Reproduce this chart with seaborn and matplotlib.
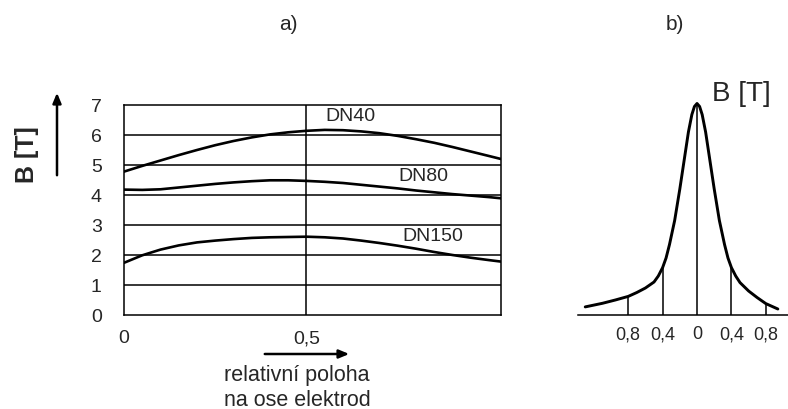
import numpy as np
import pandas as pd
import matplotlib
matplotlib.use("Agg")
import matplotlib.pyplot as plt
import seaborn as sns

# a) B along the electrode axis for three pipe sizes
poloha = [0.0, 0.05, 0.1, 0.15, 0.2, 0.25, 0.3, 0.35, 0.4, 0.45, 0.5, 0.55, 0.6,
          0.65, 0.7, 0.75, 0.8, 0.85, 0.9, 0.95, 1.0, 1.033]
b_dn40 = [4.78, 4.97, 5.15, 5.33, 5.5, 5.66, 5.8, 5.92, 6.02, 6.09, 6.14, 6.17, 6.16,
          6.12, 6.06, 5.97, 5.86, 5.74, 5.6, 5.45, 5.3, 5.2]
b_dn80 = [4.18, 4.17, 4.19, 4.25, 4.31, 4.37, 4.42, 4.46, 4.49, 4.49, 4.47, 4.44, 4.4,
          4.34, 4.28, 4.22, 4.15, 4.09, 4.03, 3.98, 3.93, 3.89]
b_dn150 = [1.74, 1.99, 2.18, 2.32, 2.42, 2.48, 2.53, 2.57, 2.59, 2.6, 2.61, 2.59, 2.55,
           2.48, 2.4, 2.31, 2.21, 2.1, 2.0, 1.91, 1.83, 1.78]

# b) field profile across the axis
prof_x = [-1.3, -1.1, -0.95, -0.8, -0.7, -0.6, -0.5, -0.45, -0.4, -0.36, -0.32, -0.26,
          -0.2, -0.15, -0.1, -0.06, -0.03, 0.0, 0.03, 0.06, 0.1, 0.15, 0.2, 0.26,
          0.32, 0.36, 0.4, 0.45, 0.5, 0.6, 0.7, 0.8, 0.94]
prof_b = [0.27, 0.39, 0.5, 0.62, 0.75, 0.9, 1.1, 1.3, 1.58, 1.9, 2.35, 3.15,
          4.2, 5.15, 6.1, 6.68, 6.95, 7.05, 6.95, 6.68, 6.1, 5.15, 4.2, 3.15,
          2.35, 1.9, 1.58, 1.3, 1.08, 0.8, 0.58, 0.38, 0.2]
prof_ticks = [-0.8, -0.4, 0.0, 0.4, 0.8]
prof_ticklabels = ["0,8", "0,4", "0", "0,4", "0,8"]

df = pd.DataFrame({"x": poloha * 3,
                   "B": b_dn40 + b_dn80 + b_dn150,
                   "serie": ["DN40"] * len(poloha) + ["DN80"] * len(poloha) + ["DN150"] * len(poloha)})
prof = pd.DataFrame({"x": prof_x, "B": prof_b})

sns.set_style("white")
plt.rcParams["font.family"] = ["Liberation Sans", "DejaVu Sans"]

W, H = 788, 409
fig = plt.figure(figsize=(W / 100, H / 100), dpi=100)

def box(x0, y0, x1, y1):
    return [x0 / W, 1 - y1 / H, (x1 - x0) / W, (y1 - y0) / H]

# ---- panel a)
ax = fig.add_axes(box(124, 105, 501, 315))
sns.lineplot(data=df, x="x", y="B", units="serie", estimator=None, color="black",
             linewidth=1.9, ax=ax, sort=False)
ax.set_xlim(0, 1.033)
ax.set_ylim(0, 7)
ax.set_yticks(range(8))
ax.set_xticks([0, 0.5])
ax.set_xticklabels(["0", "0,5"])
for y in range(1, 7):
    ax.axhline(y, color="black", lw=1.1, zorder=0)
ax.axvline(0.5, color="black", lw=1.1, zorder=0)
for s in ax.spines.values():
    s.set_color("black")
    s.set_linewidth(1.1)
ax.tick_params(axis="y", direction="out", length=7, width=1.1, pad=9, labelsize=14)
ax.tick_params(axis="x", direction="out", length=8, width=1.1, pad=3, labelsize=14)
ax.set_xlabel("")
ax.set_ylabel("")
ax.text(0.62, 6.62, "DN40", fontsize=14, ha="center", va="center")
ax.text(0.82, 4.62, "DN80", fontsize=14, ha="center", va="center")
ax.text(0.845, 2.62, "DN150", fontsize=14, ha="center", va="center")

fig.text(27 / W, 1 - 155 / H, "B [T]", rotation=90, fontsize=18, fontweight="bold",
         ha="center", va="center")
fig.add_artist(matplotlib.patches.FancyArrowPatch((57 / W, 1 - 178 / H), (57 / W, 1 - 90 / H),
               transform=fig.transFigure, arrowstyle="-|>,head_length=6,head_width=2.5",
               color="black", lw=1.8))
fig.add_artist(matplotlib.patches.FancyArrowPatch((262 / W, 1 - 354 / H), (352 / W, 1 - 354 / H),
               transform=fig.transFigure, arrowstyle="-|>,head_length=6,head_width=2.5",
               color="black", lw=1.8))
fig.text(297 / W, 1 - 375 / H, "relativní poloha", fontsize=15.5, ha="center", va="center")
fig.text(297 / W, 1 - 400 / H, "na ose elektrod", fontsize=15.5, ha="center", va="center")
fig.text(288 / W, 1 - 24 / H, "a)", fontsize=15, ha="center", va="center")
fig.text(675 / W, 1 - 24 / H, "b)", fontsize=15, ha="center", va="center")

# ---- panel b)
bx = fig.add_axes(box(578, 96, 788, 315))
sns.lineplot(data=prof, x="x", y="B", color="black", linewidth=2.1, ax=bx, sort=False)
bx.set_xlim(-1.384, 1.058)
bx.set_ylim(0, 7.3)
tops = [prof_b[prof_x.index(t)] for t in prof_ticks]
bx.vlines(prof_ticks, 0, tops, color="black", lw=1.1)
bx.set_xticks(prof_ticks)
bx.set_xticklabels(prof_ticklabels)
bx.set_yticks([])
bx.tick_params(axis="x", length=0, pad=8, labelsize=13)
bx.set_xlabel("")
bx.set_ylabel("")
for k in ["top", "left", "right"]:
    bx.spines[k].set_visible(False)
bx.spines["bottom"].set_color("black")
bx.spines["bottom"].set_linewidth(1.1)
bx.patch.set_alpha(0)
fig.text(741 / W, 1 - 94 / H, "B [T]", fontsize=20, ha="center", va="center")

fig.savefig("out.png", dpi=100)
